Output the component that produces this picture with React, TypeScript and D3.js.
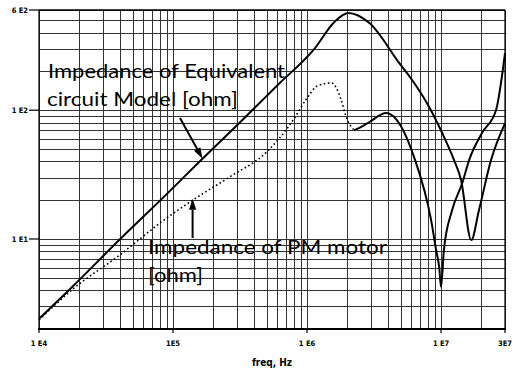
import React from 'react';
import * as d3 from 'd3';

// Impedance of the equivalent circuit model [ohm]
const eqFreq = [1e4, 1.79e4, 4.0e4, 8.97e4, 1.58e5, 3.14e5, 6.2e5, 1.13e6, 1.6e6, 2.03e6, 2.92e6, 4.88e6, 6.1e6, 8.15e6, 1.02e7, 1.25e7, 1.41e7, 1.68e7, 1.92e7, 2.36e7, 3.0e7];
const eqVal = [2.4, 4.3, 9.9, 22.3, 40, 80, 161, 298, 484, 568, 475, 232, 171, 106, 66.5, 41, 28.7, 9.8, 16.8, 41, 79];

// Impedance of PM motor [ohm] (measured)
const pmFreq = [1e4, 1.79e4, 4.0e4, 8.38e4, 1.4e5, 2.64e5, 4.99e5, 7.78e5, 1.0e6, 1.19e6, 1.52e6, 1.8e6, 1.96e6, 2.25e6, 2.46e6, 2.92e6, 3.9e6, 4.63e6, 6.3e6, 8.43e6, 9.19e6, 9.68e6, 1.0e7, 1.05e7, 1.21e7, 1.44e7, 1.62e7, 2.02e7, 2.57e7, 3.0e7];
const pmVal = [2.35, 4.09, 7.5, 13.8, 20, 30.3, 47.3, 82.4, 124, 154, 163, 120, 88.5, 70, 72.8, 81, 95, 85, 43, 14, 8.2, 6.06, 4.24, 8.2, 16.8, 27.2, 41, 66.5, 100, 278];
const pmDottedUntil = 2.25e6;

const xTicks = [1e4, 1e5, 1e6, 1e7, 3e7];
const xTickLabels = ['1 E4', '1E5', '1 E6', '1 E7', '3E7'];
const yTicks = [600, 100, 10];
const yTickLabels = ['6 E2', '1 E2', '1 E1'];

const W = 515;
const H = 374;

export default function App() {
  const x = d3.scaleLog().domain([1e4, 3e7]).range([39, 505]);
  const y = d3.scaleLog().domain([2, 600]).range([329, 10]);
  const crisp = (v: number) => Math.round(v) + 0.5;

  // minor grid: 1..9 of each decade
  const xGrid: number[] = [];
  for (let d = 1e4; d <= 1e7; d *= 10) {
    for (let m = 1; m <= 9; m++) {
      const v = d * m;
      if (v <= 3e7) xGrid.push(v);
    }
  }
  xGrid.push(2e7, 3e7);
  const yGrid: number[] = [];
  for (let d = 1; d <= 100; d *= 10) {
    for (let m = 1; m <= 9; m++) {
      const v = d * m;
      if (v >= 2 && v <= 600) yGrid.push(v);
    }
  }

  const line = d3
    .line<[number, number]>()
    .x((d) => x(d[0]))
    .y((d) => y(d[1]))
    .curve(d3.curveMonotoneX);

  const eqPts = eqFreq.map((f, i) => [f, eqVal[i]] as [number, number]);
  const pmPts = pmFreq.map((f, i) => [f, pmVal[i]] as [number, number]);
  const pmDotted = pmPts.filter((d) => d[0] <= pmDottedUntil);
  const pmSolid = pmPts.filter((d) => d[0] >= pmDottedUntil);

  const arrow = (x1: number, y1: number, x2: number, y2: number) => {
    const a = Math.atan2(y2 - y1, x2 - x1);
    const len = 11;
    const hw = 3.6;
    const bx = x2 - len * Math.cos(a);
    const by = y2 - len * Math.sin(a);
    const px = -Math.sin(a) * hw;
    const py = Math.cos(a) * hw;
    return (
      <g>
        <line x1={x1} y1={y1} x2={bx} y2={by} stroke="#000" strokeWidth={2} />
        <polygon points={`${x2},${y2} ${bx + px},${by + py} ${bx - px},${by - py}`} fill="#000" />
      </g>
    );
  };

  // arrow tips sit on the curves
  const tip1x = x(1.66e5);
  const tip1y = y(42);
  const tip2x = x(1.4e5);
  const tip2y = y(20.5);

  const labelFont = "'Liberation Sans Narrow', 'DejaVu Sans Condensed', Arial, sans-serif";
  const annFont = "Lato, 'Open Sans', sans-serif";
  const x0 = x(1e4);
  const x1 = x(3e7);
  const yTop = y(600);
  const yBot = y(2);

  return (
    <svg width={W} height={H} style={{ position: 'absolute', left: 0, top: 0, background: '#fff' }}>
      <rect x={0} y={0} width={W} height={H} fill="#fff" />
      {xGrid.map((v, i) => (
        <line key={'gx' + i} x1={crisp(x(v))} x2={crisp(x(v))} y1={yTop} y2={yBot} stroke="#333" strokeWidth={1} />
      ))}
      {yGrid.map((v, i) => (
        <line key={'gy' + i} x1={x0} x2={x1} y1={crisp(y(v))} y2={crisp(y(v))} stroke="#333" strokeWidth={1} />
      ))}
      {/* frame */}
      <line x1={x0} x2={x1} y1={yTop} y2={yTop} stroke="#000" strokeWidth={1.6} />
      <line x1={x1} x2={x1} y1={yTop} y2={yBot} stroke="#000" strokeWidth={1.2} />
      <line x1={x0} x2={x0} y1={yTop} y2={yBot} stroke="#000" strokeWidth={1.2} />
      <line x1={x0 - 1} x2={x1 + 1} y1={yBot} y2={yBot} stroke="#000" strokeWidth={2.2} />

      {/* y ticks */}
      {yTicks.map((v, i) => (
        <g key={'yt' + i}>
          <line x1={29} x2={x0} y1={y(v)} y2={y(v)} stroke="#000" strokeWidth={1.2} />
          <text x={28} y={y(v)} dy="0.35em" textAnchor="end" fontFamily={labelFont} fontWeight="bold" fontSize={7.5}>
            {yTickLabels[i]}
          </text>
        </g>
      ))}
      {/* x ticks */}
      {xTicks.map((v, i) => (
        <g key={'xt' + i}>
          <line x1={x(v)} x2={x(v)} y1={yBot} y2={yBot + 4} stroke="#000" strokeWidth={1.2} />
          <text x={x(v)} y={343} dy="0.35em" textAnchor="middle" fontFamily={labelFont} fontWeight="bold" fontSize={7.5}>
            {xTickLabels[i]}
          </text>
        </g>
      ))}
      <text x={272} y={362} dy="0.35em" textAnchor="middle" fontFamily={labelFont} fontWeight="bold" fontSize={10}>
        freq, Hz
      </text>

      {/* curves */}
      <path d={line(eqPts) || ''} fill="none" stroke="#000" strokeWidth={2} />
      <path d={line(pmDotted) || ''} fill="none" stroke="#000" strokeWidth={1.6} strokeDasharray="1.6,2.6" />
      <path d={line(pmSolid) || ''} fill="none" stroke="#000" strokeWidth={2} />

      {/* annotations */}
      <text x={48} y={78} fontFamily={annFont} fontSize={19} textLength={237} lengthAdjust="spacingAndGlyphs">
        Impedance of Equivalent
      </text>
      <text x={47} y={106} fontFamily={annFont} fontSize={19} textLength={191} lengthAdjust="spacingAndGlyphs">
        circuit Model [ohm]
      </text>
      <text x={148} y={254} fontFamily={annFont} fontSize={19} textLength={239} lengthAdjust="spacingAndGlyphs">
        Impedance of PM motor
      </text>
      <text x={148} y={282} fontFamily={annFont} fontSize={19} textLength={55} lengthAdjust="spacingAndGlyphs">
        [ohm]
      </text>
      {arrow(180, 118, tip1x, tip1y)}
      {arrow(tip2x, 238, tip2x, tip2y)}
    </svg>
  );
}
